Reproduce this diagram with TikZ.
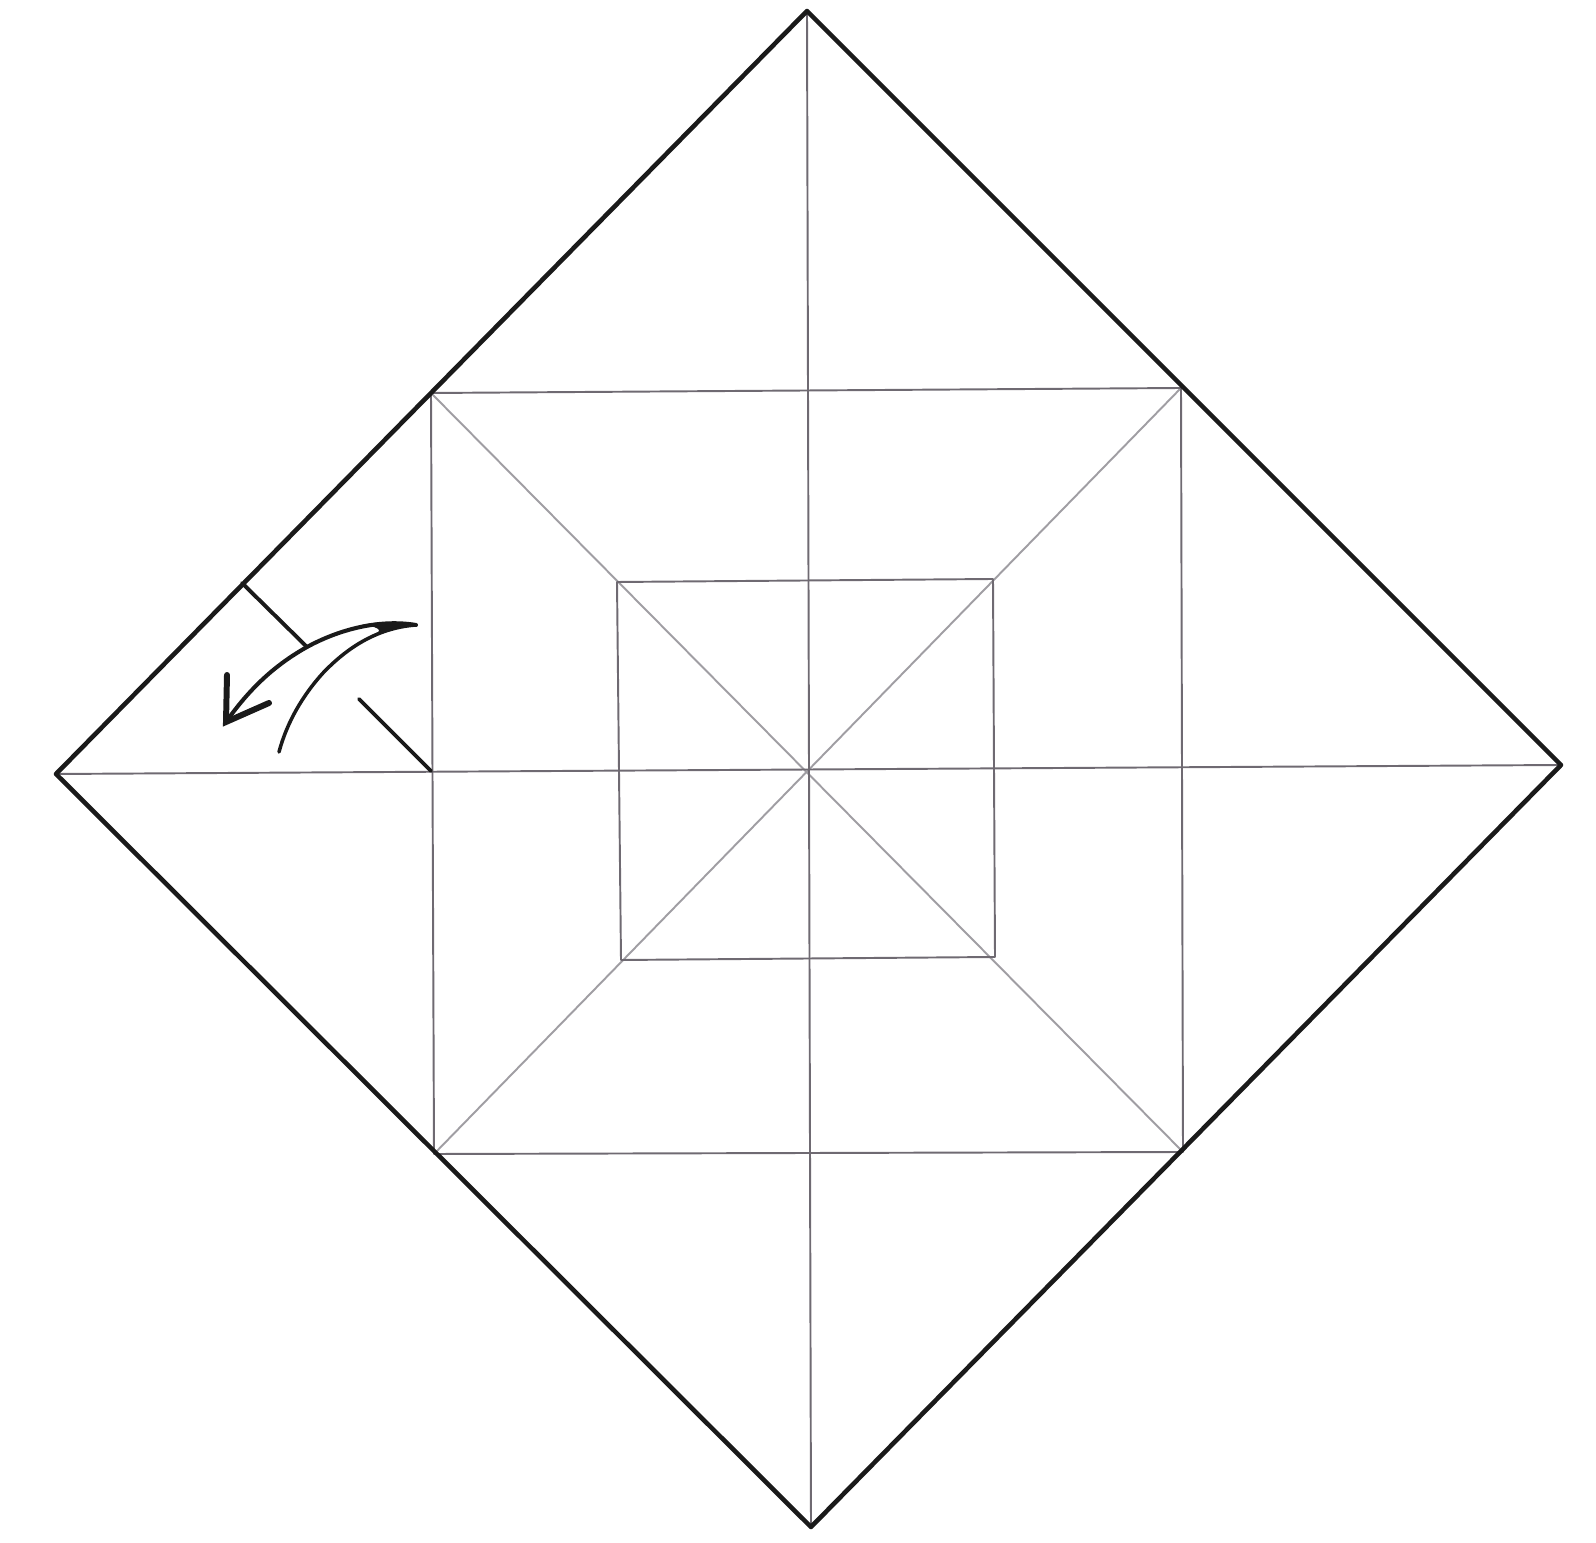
\documentclass[tikz,border=0pt]{standalone}
\usepackage{xcolor}
\usetikzlibrary{calc}
\definecolor{foldgray}{HTML}{6F6A72}
\definecolor{diaggray}{HTML}{A09EA3}
\definecolor{sheetblack}{HTML}{1A1A1A}

\begin{document}
\begin{tikzpicture}[x=0.01cm, y=-0.01cm, line join=round,
    edgeline/.style={line width=1.3pt, sheetblack},
    creaseline/.style={line width=0.55pt, foldgray},
    diagline/.style={line width=0.55pt, diaggray},
    foldline/.style={line width=1.1pt, sheetblack, line cap=round}]
  \useasboundingbox (0,0) rectangle (1596,1543);
  % corners of the sheet
  \coordinate (top) at (807,11);
  \coordinate (right) at (1561,765);
  \coordinate (bottom) at (811,1527);
  \coordinate (left) at (56,774);
  \coordinate (mid) at (807,771);
  % outer square
  \coordinate (otl) at (431,393);
  \coordinate (otr) at (1181,388);
  \coordinate (obr) at (1183,1152);
  \coordinate (obl) at (434,1154);
  % inner square
  \coordinate (itl) at (617,582);
  \coordinate (itr) at (993,579);
  \coordinate (ibr) at (995,957);
  \coordinate (ibl) at (621,960);
  % edges of the outer square on the centre lines
  \coordinate (oleft) at (431,771);

  \draw[diagline] (otl) -- (obr);
  \draw[diagline] (otr) -- (obl);
  \draw[creaseline] (top) -- (bottom);
  \draw[creaseline] (left) -- (right);
  \draw[creaseline] (otl) -- (otr) -- (obr) -- (obl) -- cycle;
  \draw[creaseline] (itl) -- (itr) -- (ibr) -- (ibl) -- cycle;
  \draw[edgeline] (top) -- (right) -- (bottom) -- (left) -- cycle;

  % fold mark
  \coordinate (fa) at (242,583);
  \coordinate (fb) at (307,647);
  \coordinate (fc) at (359,699);
  \draw[foldline] (fa) -- (fb);
  \draw[foldline] (fc) -- (oleft);

  % arrow
  \coordinate (tail) at (416,625);
  \coordinate (tip) at (226,722);
  \coordinate (foot) at (279,752);
  \draw[line width=1.15pt, sheetblack, line cap=round] (tail) .. controls (380,619) and (340,629) .. (fb) .. controls (275,665) and (250,688) .. (tip);
  \fill[sheetblack] (tail) .. controls (400,621) and (380,621) .. (362,625) .. controls (375,626) and (385,630) .. (375,634) .. controls (385,629) and (400,628) .. cycle;
  \draw[line width=1pt, sheetblack, line cap=round] (tail) .. controls (375,628) and (345,650) .. (323,673) .. controls (303,695) and (287,722) .. (foot);
  \draw[line width=1.7pt, sheetblack, line cap=round, line join=miter] (227,675) -- (tip) -- (269,703);
\end{tikzpicture}
\end{document}
